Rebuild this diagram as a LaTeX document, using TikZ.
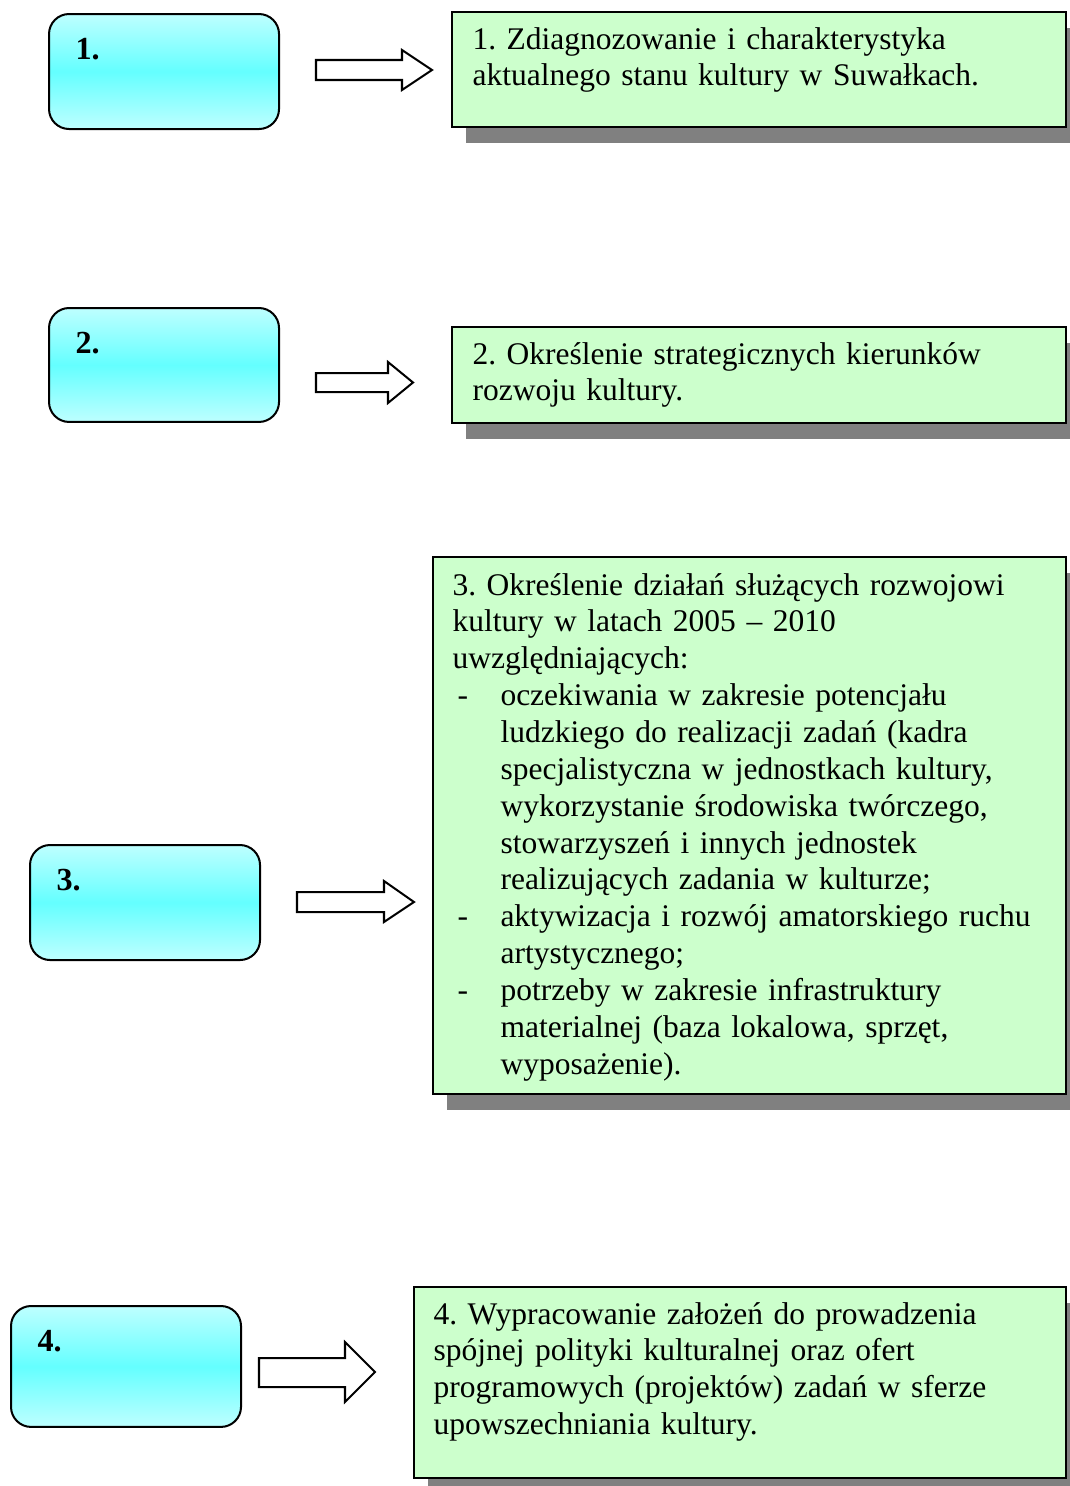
\documentclass[tikz,border=0pt]{standalone}
\usepackage{fontspec}
\setmainfont{Liberation Serif}
\usetikzlibrary{shadows}
\definecolor{cyanlite}{RGB}{190,255,255}
\definecolor{cyanmid}{RGB}{100,255,255}
\definecolor{litegreen}{RGB}{204,255,204}
\tikzset{
  stepbox/.style={draw, line width=0.75pt, rounded corners=7.5pt, top color=cyanlite, bottom color=cyanlite, middle color=cyanmid, minimum width=85.8pt, minimum height=42.9pt, inner sep=0pt, anchor=north west},
  numlabel/.style={font=\bfseries\fontsize{12pt}{14pt}\selectfont, inner sep=0pt, anchor=base west},
  greenbox/.style={draw, line width=0.75pt, fill=litegreen, inner sep=0pt, anchor=north west, drop shadow={shadow xshift=5.2pt, shadow yshift=-6pt, fill=gray, opacity=1}},
  boxtext/.style={font=\fontsize{11.75pt}{13.75pt}\selectfont\frenchspacing, text width=232pt, align=left, inner sep=0pt, anchor=base west},
  blockarrow/.style={draw, line width=0.75pt, fill=white, line join=miter}
}
\newcommand{\listdash}{\makebox[17.9pt][l]{\hspace{1.9pt}-}}
\newcommand{\listgap}{\hspace*{17.9pt}}

\begin{document}
\begin{tikzpicture}[x=0.373pt,y=-0.373pt,line cap=round]
	\useasboundingbox (0,0) rectangle (1070,1486);
	% 1
	\node[stepbox] (l1) at (48,13) {};
	\node[numlabel] (n1) at ([shift={(27,46)}]l1.north west) {1.};
	\node[greenbox, minimum width=229pt, minimum height=42.9pt] (g1) at (451,11) {};
	\node[boxtext] (t1) at ([shift={(21,38)}]g1.north west) {1. Zdiagnozowanie i charakterystyka\\aktualnego stanu kultury w Suwałkach.};
	\draw [blockarrow] (316,60) -- (402,60) -- (402,50) -- (432,70) -- (402,90) -- (402,80) -- (316,80) -- cycle;

	% 2
	\node[stepbox, minimum height=42.5pt] (l2) at (48,307) {};
	\node[numlabel] (n2) at ([shift={(27,46)}]l2.north west) {2.};
	\node[greenbox, minimum width=229pt, minimum height=35.8pt] (g2) at (451,326) {};
	\node[boxtext] (t2) at ([shift={(21,38)}]g2.north west) {2. Określenie strategicznych kierunków\\rozwoju kultury.};
	\draw [blockarrow] (316,373) -- (388,373) -- (388,362) -- (413,382.5) -- (388,403) -- (388,392) -- (316,392) -- cycle;

	% 3
	\node[stepbox] (l3) at (29,844) {};
	\node[numlabel] (n3) at ([shift={(27,46)}]l3.north west) {3.};
	\node[greenbox, minimum width=236.1pt, minimum height=200.3pt] (g3) at (432,556) {};
	\node[boxtext] (t3) at ([shift={(20,39)}]g3.north west) {3. Określenie działań służących rozwojowi\\kultury w latach 2005 – 2010\\uwzględniających:\\
		\listdash oczekiwania w zakresie potencjału\\
		\listgap ludzkiego do realizacji zadań (kadra\\
		\listgap specjalistyczna w jednostkach kultury,\\
		\listgap wykorzystanie środowiska twórczego,\\
		\listgap stowarzyszeń i innych jednostek\\
		\listgap realizujących zadania w kulturze;\\
		\listdash aktywizacja i rozwój amatorskiego ruchu\\
		\listgap artystycznego;\\
		\listdash potrzeby w zakresie infrastruktury\\
		\listgap materialnej (baza lokalowa, sprzęt,\\
		\listgap wyposażenie).};
	\draw [blockarrow] (297,892) -- (384,892) -- (384,881) -- (414,902) -- (384,922) -- (384,912) -- (297,912) -- cycle;

	% 4
	\node[stepbox, minimum height=45.1pt] (l4) at (10,1305) {};
	\node[numlabel] (n4) at ([shift={(27,46)}]l4.north west) {4.};
	\node[greenbox, minimum width=243.2pt, minimum height=71.2pt] (g4) at (413,1286) {};
	\node[boxtext] (t4) at ([shift={(20,38)}]g4.north west) {4. Wypracowanie założeń do prowadzenia\\spójnej polityki kulturalnej oraz ofert\\programowych (projektów) zadań w sferze\\upowszechniania kultury.};
	\draw [blockarrow] (259,1358) -- (345,1358) -- (345,1342) -- (375,1372) -- (345,1402) -- (345,1387) -- (259,1387) -- cycle;
\end{tikzpicture}
\end{document}
